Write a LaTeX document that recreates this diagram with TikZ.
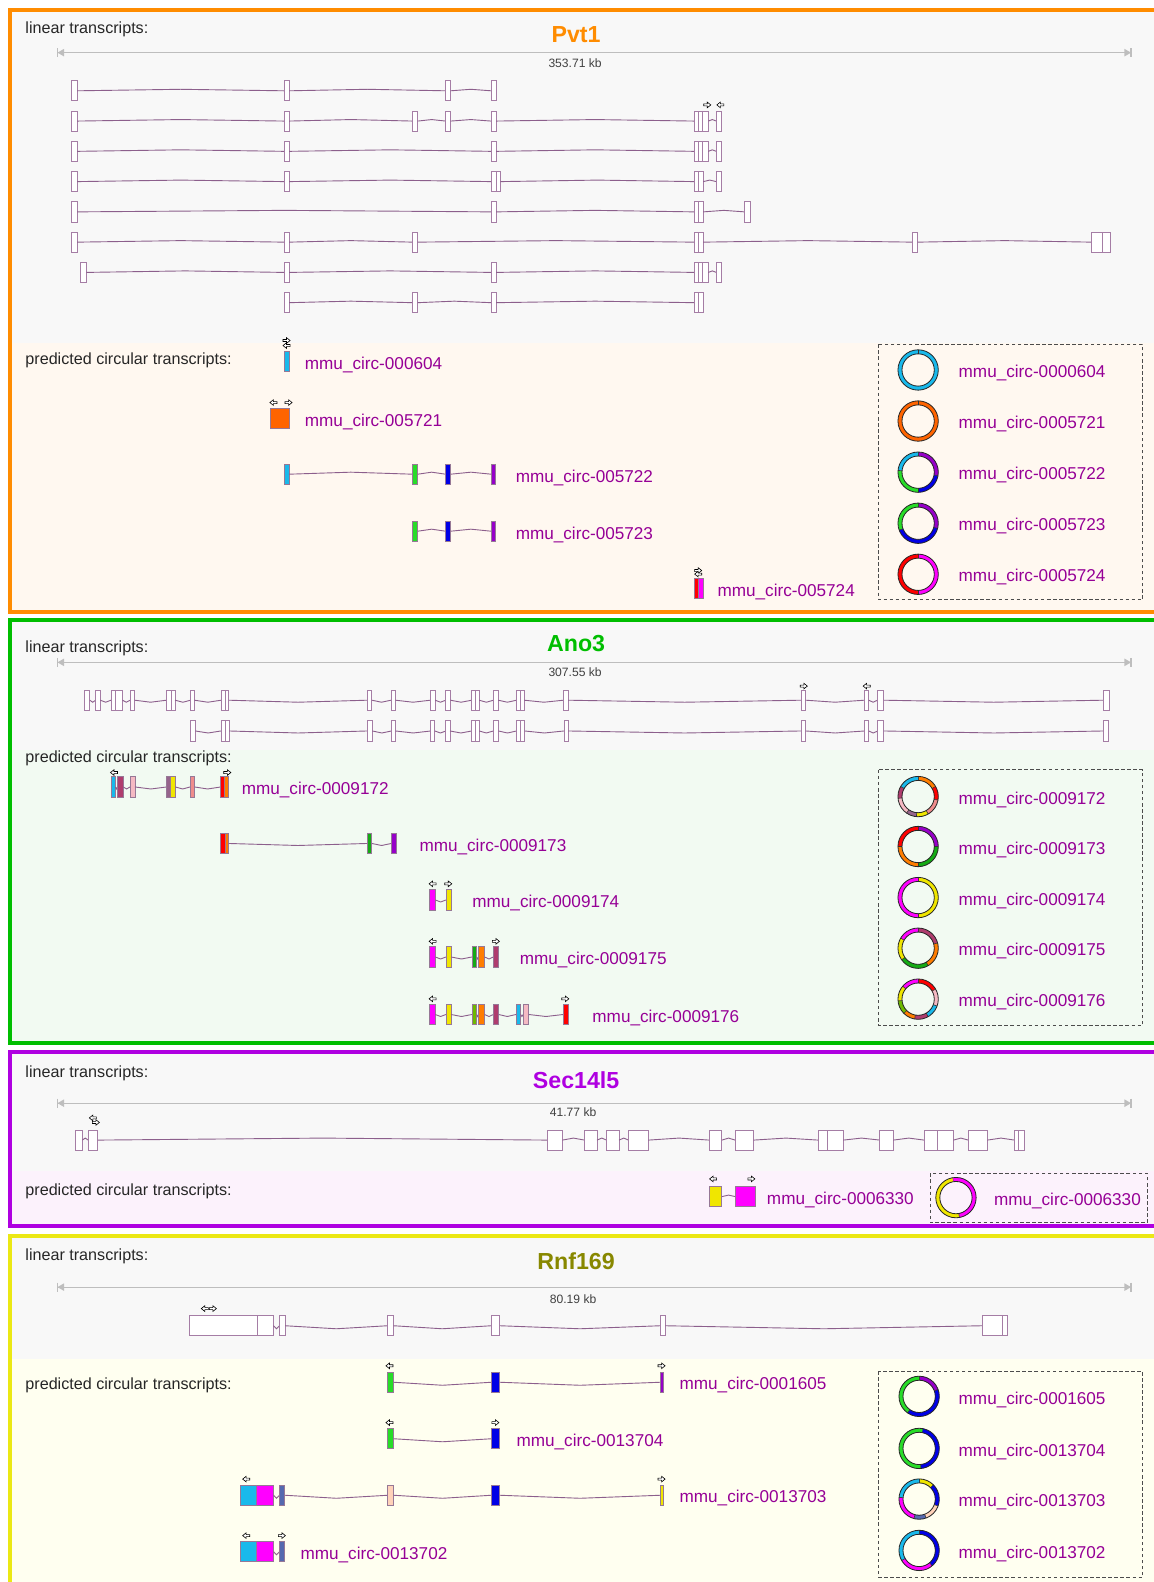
\documentclass[tikz,border=0pt]{standalone}
\usepackage{fontspec}
\setmainfont{Liberation Sans}
\usetikzlibrary{calc}
\definecolor{intr}{RGB}{140,95,140}
\definecolor{exb}{RGB}{165,125,165}
\definecolor{exc}{RGB}{150,120,150}
\definecolor{lab}{RGB}{150,0,150}
\definecolor{sbarc}{RGB}{190,190,190}
\definecolor{bgG}{RGB}{248,248,248}
\definecolor{bgO}{RGB}{255,248,240}
\definecolor{bgN}{RGB}{242,250,242}
\definecolor{bgP}{RGB}{252,242,252}
\definecolor{bgY}{RGB}{255,255,240}
\definecolor{cO}{RGB}{255,140,0}
\definecolor{cN}{RGB}{0,190,0}
\definecolor{cP}{RGB}{175,0,225}
\definecolor{cY}{RGB}{235,232,20}
\definecolor{tY}{RGB}{136,136,0}
\definecolor{cy}{RGB}{25,185,235}
\definecolor{org}{RGB}{255,100,0}
\definecolor{gr}{RGB}{40,220,40}
\definecolor{bl}{RGB}{0,0,230}
\definecolor{pu}{RGB}{150,0,200}
\definecolor{rd}{RGB}{255,0,0}
\definecolor{mg}{RGB}{255,0,255}
\definecolor{dm}{RGB}{175,60,110}
\definecolor{pk}{RGB}{245,185,195}
\definecolor{pg}{RGB}{150,100,140}
\definecolor{ye}{RGB}{240,230,0}
\definecolor{sa}{RGB}{240,140,140}
\definecolor{gd}{RGB}{20,170,20}
\definecolor{og}{RGB}{255,125,0}
\definecolor{ol}{RGB}{110,185,0}
\definecolor{sl}{RGB}{85,105,175}
\definecolor{pc}{RGB}{255,210,185}
\tikzset{
  lbl/.style={font=\fontsize{16}{18}\selectfont, text=black!85, anchor=base west, inner sep=0pt},
  circlbl/.style={font=\fontsize{17}{20}\selectfont, text=lab, anchor=base west, inner sep=0pt},
  ttl/.style={font=\fontsize{23}{26}\selectfont\bfseries, anchor=base, inner sep=0pt},
  kb/.style={font=\fontsize{12}{14}\selectfont, text=black!75, anchor=base, inner sep=0pt},
  intron/.style={draw=intr, line width=0.9pt},
  exonL/.style={draw=exb, fill=white, line width=0.9pt},
  exonC/.style={draw=exc, line width=0.8pt},
  sbar/.style={draw=sbarc, line width=1.2pt},
  mk/.style={draw=black, fill=white, line width=0.6pt},
  legbox/.style={draw=black!70, dash pattern=on 3.5pt off 2.5pt, line width=0.9pt},
  panel/.style={line width=3.8pt},
}
\newcommand\linrow[3]{%
  \foreach \a/\b [remember=\b as \pb (initially 0)] in {#3}{%
    \pgfmathtruncatemacro\ok{(\pb>0)*((\a-\pb)>1.5)}%
    \ifnum\ok=1 \draw[intron] (\pb,#1) -- ({(\pb+\a)/2},{#1+(#2)}) -- (\a,#1);\fi
    \draw[exonL] (\a,{#1-10}) rectangle (\b,{#1+10});
  }}
\newcommand\circrow[3]{%
  \foreach \a/\b/\c [remember=\b as \pb (initially 0)] in {#3}{%
    \pgfmathtruncatemacro\ok{(\pb>0)*((\a-\pb)>1.5)}%
    \ifnum\ok=1 \draw[intron] (\pb,#1) -- ({(\pb+\a)/2},{#1+(#2)}) -- (\a,#1);\fi
    \draw[exonC, fill=\c] (\a,{#1-10}) rectangle (\b,{#1+10});
  }}
\newcommand\arR[2]{\draw[mk] ({#1-3.5},{#2-1}) -- ({#1},{#2-1}) -- ({#1},{#2-2.8}) -- ({#1+3.5},{#2}) -- ({#1},{#2+2.8}) -- ({#1},{#2+1}) -- ({#1-3.5},{#2+1}) -- cycle;}
\newcommand\arL[2]{\draw[mk] ({#1+3.5},{#2-1}) -- ({#1},{#2-1}) -- ({#1},{#2-2.8}) -- ({#1-3.5},{#2}) -- ({#1},{#2+2.8}) -- ({#1},{#2+1}) -- ({#1+3.5},{#2+1}) -- cycle;}
\newcommand\scalebar[1]{%
  \draw[sbar] (57,#1) -- (1121,#1);
  \fill[sbarc] (57,#1) -- (63.5,{#1-3.8}) -- (63.5,{#1+3.8}) -- cycle;
  \draw[sbar] (57,{#1-4.5}) -- (57,{#1+4.5});
  \fill[sbarc] (1121,#1) -- (1114.5,{#1-3.8}) -- (1114.5,{#1+3.8}) -- cycle;
  \draw[sbar] (1121,{#1-4.5}) -- (1121,{#1+4.5});}
\newcommand\ring[3]{%
  \begin{scope}[shift={(#1,#2)}]
  \foreach \s/\e/\c in {#3}{%
    \fill[\c] ({\s-90}:20) arc[start angle={\s-90}, end angle={\e-90}, radius=20] -- ({\e-90}:16) arc[start angle={\e-90}, end angle={\s-90}, radius=16] -- cycle;
    \draw[black!80, line width=0.6pt] ({\s-90}:16) -- ({\s-90}:20);
  }
  \draw[black!85, line width=0.8pt] (0,0) circle (20) (0,0) circle (16);
  \end{scope}}
\begin{document}
\begin{tikzpicture}[x=1pt,y=-1pt]
\useasboundingbox (0,0) rectangle (1143,1568);
\fill[white] (0,0) rectangle (1143,1568);
% ---------- backgrounds
\fill[bgG] (10,10) rectangle (1160,339.6);
\fill[bgO] (10,339.6) rectangle (1160,606.6);
\fill[bgG] (10,614.8) rectangle (1160,743);
\fill[bgN] (10,743) rectangle (1160,1034);
\fill[bgG] (10,1042.6) rectangle (1160,1161);
\fill[bgP] (10,1161) rectangle (1160,1215);
\fill[bgG] (10,1225.4) rectangle (1160,1347);
\fill[bgY] (10,1347) rectangle (1160,1580);
% ---------- panel borders (right edges lie outside the picture)
\draw[panel, cO] (10,10) rectangle (1160,606.6);
\draw[panel, cN] (10,614.8) rectangle (1160,1034);
\draw[panel, cP] (10,1042.6) rectangle (1160,1215);
\draw[panel, cY] (10,1225.4) rectangle (1160,1590);

% =================== Pvt1
\node[lbl] (p1lin) at (25,33.5) {linear transcripts:};
\node[ttl, text=cO] (p1t) at (571,42) {Pvt1};
\scalebar{52.2}
\node[kb] (p1kb) at (570,66.5) {353.71 kb};
\linrow{90}{-1.5}{70.5/76.5,281.5/286.5,441.7/446.7,486.7/491.7}
\linrow{120}{-1.5}{70.5/76.5,281.5/286.5,409/414,441.7/446.7,486.7/491.7,688/692,692/696,696/702,710/715}
\arR{701}{104}\arL{714}{104}
\linrow{150}{-1.5}{70.5/76.5,281.5/286.5,486.7/491.7,688/692,692/696,696/702,710/715}
\linrow{180}{-1.5}{70.5/76.5,281.5/286.5,486.7/491.7,491.7/496,688/692,692/697,710/715}
\linrow{210}{-1.5}{70.5/76.5,486.7/491.7,688/692,692/697,738/744}
\linrow{240}{-1.5}{70.5/76.5,281.5/286.5,409/414,688/692,692/697,904.5/909.5,1082/1093,1093/1101}
\linrow{270}{-1.5}{79.5/85.5,281.5/286.5,486.7/491.7,688/692,692/696,696/702,710/715}
\linrow{300}{-1.5}{281.5/286.5,409/414,486.7/491.7,688/692,692/697}
\node[lbl] (p1circ) at (25,361.5) {predicted circular transcripts:};
\circrow{358}{-1.5}{281.8/286.4/cy}
\arR{284}{337.5}\arL{284}{342.5}
\node[circlbl] (p1c1) at (302,366) {mmu\_circ-000604};
\circrow{414.6}{-1.5}{267.6/286.4/org}
\arL{271}{399}\arR{286}{399}
\node[circlbl] (p1c2) at (302,422.5) {mmu\_circ-005721};
\circrow{470}{-2}{281.8/286.4/cy,409/414/gr,441.7/446.6/bl,486.9/491.5/pu}
\node[circlbl] (p1c3) at (511,478) {mmu\_circ-005722};
\circrow{526.5}{-2}{409/414/gr,441.7/446.6/bl,486.9/491.5/pu}
\node[circlbl] (p1c4) at (511,534.5) {mmu\_circ-005723};
\circrow{583}{-1.5}{688/692.5/rd,692.5/697/mg}
\arR{692}{565.5}\arL{692}{569}
\node[circlbl] (p1c5) at (711,591) {mmu\_circ-005724};
\draw[legbox] (871,341.3) rectangle (1132.4,594.6);
\ring{910}{366.7}{0/360/cy}
\ring{910}{417.3}{0/360/org}
\ring{910}{468}{0/100/pu,100/180/bl,180/275/gr,275/360/cy}
\ring{910}{518.6}{0/105/pu,105/250/bl,250/360/gr}
\ring{910}{569.2}{0/180/mg,180/360/rd}
\node[circlbl] (p1l1) at (950,374.3) {mmu\_circ-0000604};
\node[circlbl] (p1l2) at (950,424.9) {mmu\_circ-0005721};
\node[circlbl] (p1l3) at (950,475.6) {mmu\_circ-0005722};
\node[circlbl] (p1l4) at (950,526.2) {mmu\_circ-0005723};
\node[circlbl] (p1l5) at (950,576.8) {mmu\_circ-0005724};

% =================== Ano3
\node[lbl] (p2lin) at (25,646.5) {linear transcripts:};
\node[ttl, text=cN] (p2t) at (571,646) {Ano3};
\scalebar{656.5}
\node[kb] (p2kb) at (570,671) {307.55 kb};
\linrow{694}{2}{84/89,94.8/99.4,110/114.5,114.5/121.4,129/133.5,165/169.5,169.5/173.5,189/192.7,219.3/223.8,223.8/226.8,364/368.6,387.6/392,426.7/431.3,441.8/446.4,467.6/471,471/474.9,489.2/493.8,512/515.8,515.8/519.6,558.6/563.2,794/798.6,856.8/861,869.7/876,1093.8/1100}
\arR{796.7}{680}\arL{859}{680}
\linrow{724.5}{2}{189/193.6,219/223,223/227,364/369,388/392,427/431,442/446,467.6/471,471/475,489/494,512/516,516/520,559/563,794/798.6,857/861,870/876,1094/1099}
\node[lbl] (p2circ) at (25,755.5) {predicted circular transcripts:};
\circrow{780}{2}{110.3/114.3/cy,116.3/122.2/dm,128.8/133.8/pk,165.2/169.2/pg,169.2/173.8/ye,188.3/192.9/sa,218.7/222.7/rd,222.7/226.6/og}
\arL{113}{765.7}\arR{225.3}{765.7}
\node[circlbl] (p2c1) at (239.5,787.5) {mmu\_circ-0009172};
\circrow{836}{2}{218.7/223.3/rd,223.3/226.6/og,364/368.6/gd,387.8/393/pu}
\node[circlbl] (p2c2) at (415.6,843.5) {mmu\_circ-0009173};
\circrow{892}{2}{426/431.4/mg,442/447/ye}
\arL{428.8}{876}\arR{444.3}{876}
\node[circlbl] (p2c3) at (468,899.5) {mmu\_circ-0009174};
\circrow{948.5}{2}{426/431.4/mg,442/447/ye,467.8/472.4/gd,474.4/480.3/og,489/494.2/dm}
\arL{428.8}{933}\arR{491.5}{933}
\node[circlbl] (p2c4) at (515,956) {mmu\_circ-0009175};
\circrow{1005.5}{2}{426/431.4/mg,442/447/ye,467.8/472.4/ol,474.4/480.3/og,489/494.2/dm,511.4/516/cy,518.6/524/pk,558.3/563.6/rd}
\arL{428.8}{990}\arR{560.3}{990}
\node[circlbl] (p2c5) at (587,1013) {mmu\_circ-0009176};
\draw[legbox] (871,763) rectangle (1132.4,1016.5);
\ring{910}{789.5}{0/60/og,60/100/rd,100/150/sa,150/185/ye,185/215/pg,215/265/pk,265/300/dm,300/360/cy}
\ring{910}{839}{0/90/pu,90/180/gd,180/270/og,270/360/rd}
\ring{910}{889.6}{0/180/ye,180/360/mg}
\ring{910}{939.8}{0/75/dm,75/150/og,150/235/gd,235/300/ye,300/360/mg}
\ring{910}{990.3}{0/60/rd,60/110/pk,110/150/cy,150/190/dm,190/225/og,225/265/ol,265/310/ye,310/360/mg}
\node[circlbl] (p2l1) at (950,797.1) {mmu\_circ-0009172};
\node[circlbl] (p2l2) at (950,846.6) {mmu\_circ-0009173};
\node[circlbl] (p2l3) at (950,897.2) {mmu\_circ-0009174};
\node[circlbl] (p2l4) at (950,947.4) {mmu\_circ-0009175};
\node[circlbl] (p2l5) at (950,997.9) {mmu\_circ-0009176};

% =================== Sec14l5
\node[lbl] (p3lin) at (25,1068) {linear transcripts:};
\node[ttl, text=cP] (p3t) at (571,1078.5) {Sec14l5};
\scalebar{1093.4}
\node[kb] (p3kb) at (568,1106.5) {41.77 kb};
\linrow{1130}{-2}{75/81.6,87.4/96.9,542.9/557.4,579.3/591.7,601.2/613.5,623/642.7,703.2/715.5,728.7/746.9,811/819.8,819.8/835.8,872.1/885.4,916/929,929/945,959.7/978.6,1005.6/1009.3,1009.3/1015}
\arL{92}{1108}\arR{95}{1112.5}
\node[lbl] (p3circ) at (25,1185) {predicted circular transcripts:};
\circrow{1186}{-1.5}{703.2/715.5/ye,728.7/748.3/mg}
\arL{706.8}{1168.5}\arR{744.7}{1168.5}
\node[circlbl] (p3c1) at (760,1193.5) {mmu\_circ-0006330};
\draw[legbox] (922,1163) rectangle (1137,1212);
\ring{947.5}{1187}{-10/170/mg,170/350/ye}
\node[circlbl] (p3l1) at (985,1194.6) {mmu\_circ-0006330};

% =================== Rnf169
\node[lbl] (p4lin) at (25,1249) {linear transcripts:};
\node[ttl, text=tY] (p4t) at (571,1258) {Rnf169};
\scalebar{1275.7}
\node[kb] (p4kb) at (568,1291.5) {80.19 kb};
\linrow{1314}{3}{188/255,255/271,277/282.7,384/390,486.8/495.5,654.4/659.4,973.5/994,994/998.3}
\arL{203}{1297}\arR{211}{1297}
\node[lbl] (p4circ) at (25,1377.5) {predicted circular transcripts:};
\circrow{1370}{3}{384.4/390.2/gr,487/495.3/bl,654.6/658/pu}
\arL{386}{1353.7}\arR{655.7}{1353.7}
\node[circlbl] (p4c1) at (673.4,1377.5) {mmu\_circ-0001605};
\circrow{1426}{3}{384.4/390.2/gr,487/495.3/bl}
\arL{386}{1410}\arR{491}{1410}
\node[circlbl] (p4c2) at (511.8,1433.5) {mmu\_circ-0013704};
\circrow{1482}{3}{238.7/254.6/cy,254.6/271.2/mg,277/282.3/sl,384.4/390.2/pc,487/495.3/bl,654.6/658/ye}
\arL{244}{1466}\arR{655.7}{1466}
\node[circlbl] (p4c3) at (673.4,1489.5) {mmu\_circ-0013703};
\circrow{1538}{3}{238.7/254.6/cy,254.6/271.2/mg,277/282.3/sl}
\arL{244}{1522}\arR{279.4}{1522}
\node[circlbl] (p4c4) at (297.7,1545.5) {mmu\_circ-0013702};
\draw[legbox] (871,1359) rectangle (1132.4,1563.5);
\ring{911}{1384}{0/70/pu,70/215/bl,215/360/gr}
\ring{911}{1435.6}{10/175/bl,175/370/gr}
\ring{911}{1485.8}{0/45/ye,45/110/bl,110/160/pc,160/195/sl,195/275/mg,275/360/cy}
\ring{911}{1536.7}{0/140/bl,140/240/mg,240/360/cy}
\node[circlbl] (p4l1) at (950,1391.6) {mmu\_circ-0001605};
\node[circlbl] (p4l2) at (950,1443.2) {mmu\_circ-0013704};
\node[circlbl] (p4l3) at (950,1493.4) {mmu\_circ-0013703};
\node[circlbl] (p4l4) at (950,1544.3) {mmu\_circ-0013702};
\end{tikzpicture}
\end{document}
